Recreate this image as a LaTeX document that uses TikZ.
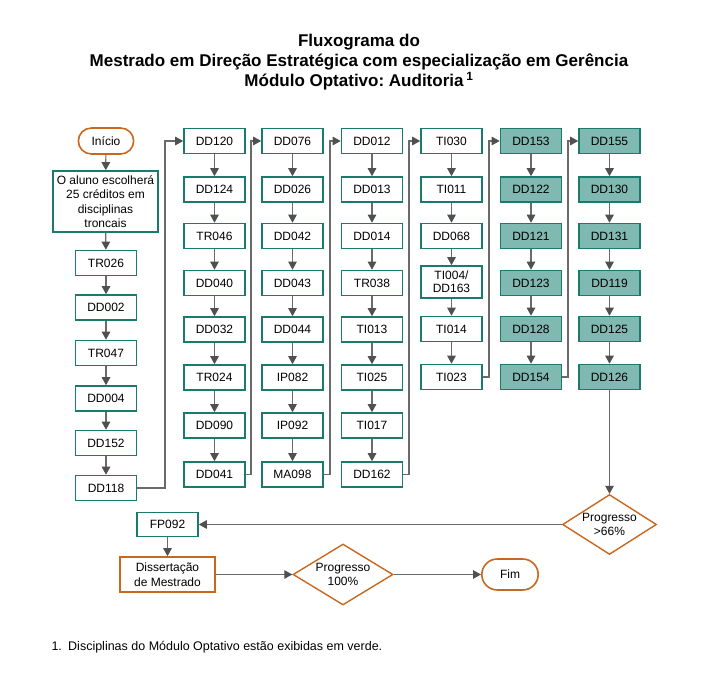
\documentclass[tikz,border=0pt]{standalone}
\usepackage{fontspec}
\setmainfont{Liberation Sans}
\frenchspacing
\usetikzlibrary{arrows.meta,shapes.geometric,shapes.misc}
\definecolor{BoxClr}{HTML}{1A7A6C}
\definecolor{OptClr}{HTML}{80B8B2}
\definecolor{EndClr}{HTML}{C8671E}
\definecolor{LineClr}{HTML}{6A6A6A}
\definecolor{TipClr}{HTML}{505050}

\begin{document}
\begin{tikzpicture}[x=1pt,y=-1pt,
  font=\fontsize{12}{14.5}\selectfont,
  disc/.style={draw=BoxClr,line width=1.6pt,fill=white,minimum width=61pt,minimum height=25pt,inner sep=1pt,align=center},
  opt/.style={disc,fill=OptClr},
  term/.style={draw=EndClr,line width=1.6pt,rounded rectangle,minimum width=62pt,minimum height=26pt},
  decis/.style={draw=EndClr,line width=1.4pt,diamond,aspect=1.57,inner sep=0pt,align=center,minimum width=94pt,minimum height=60pt},
  flow/.style={draw=LineClr,line width=1.2pt,-{Triangle[length=8pt,width=8.5pt,fill=TipClr,color=TipClr]}}]
\useasboundingbox (0,0) rectangle (716,685);

\node[font=\fontsize{17}{20}\selectfont\bfseries,align=center] (titulo) at (359,62)
  {Fluxograma do\\Mestrado em Direção Estratégica com especialização em Gerência\\Módulo Optativo: Auditoria\,\textsuperscript{1}};

\node[term] (inicio) at (106,141) {Início};
\node[disc,minimum width=105pt,minimum height=61pt] (escolha) at (105.5,201.5) {O aluno escolherá\\25 créditos em\\disciplinas\\troncais};
\node[disc] (tr026) at (106,263) {TR026};
\node[disc] (dd002) at (106,307.5) {DD002};
\node[disc] (tr047) at (106,353) {TR047};
\node[disc] (dd004) at (106,398.5) {DD004};
\node[disc] (dd152) at (106,443) {DD152};
\node[disc] (dd118) at (106,488) {DD118};

\node[disc] (dd120) at (214.5,141) {DD120};
\node[disc] (dd124) at (214.5,189.5) {DD124};
\node[disc] (tr046) at (214.5,236) {TR046};
\node[disc] (dd040) at (214.5,283) {DD040};
\node[disc] (dd032) at (214.5,329.5) {DD032};
\node[disc] (tr024) at (214.5,377.5) {TR024};
\node[disc] (dd090) at (214.5,425.5) {DD090};
\node[disc] (dd041) at (214.5,474.5) {DD041};

\node[disc] (dd076) at (292.5,141) {DD076};
\node[disc] (dd026) at (292.5,189.5) {DD026};
\node[disc] (dd042) at (292.5,236) {DD042};
\node[disc] (dd043) at (292.5,283) {DD043};
\node[disc] (dd044) at (292.5,329.5) {DD044};
\node[disc] (ip082) at (292.5,377.5) {IP082};
\node[disc] (ip092) at (292.5,425.5) {IP092};
\node[disc] (ma098) at (292.5,474.5) {MA098};

\node[disc] (dd012) at (372,141) {DD012};
\node[disc] (dd013) at (372,189.5) {DD013};
\node[disc] (dd014) at (372,236) {DD014};
\node[disc] (tr038) at (372,283) {TR038};
\node[disc] (ti013) at (372,329.5) {TI013};
\node[disc] (ti025) at (372,377.5) {TI025};
\node[disc] (ti017) at (372,425.5) {TI017};
\node[disc] (dd162) at (372,474.5) {DD162};

\node[disc] (ti030) at (451.5,141) {TI030};
\node[disc] (ti011) at (451.5,189.5) {TI011};
\node[disc] (dd068) at (451.5,236) {DD068};
\node[disc,minimum height=32pt,font=\fontsize{12}{13}\selectfont] (ti004) at (451.5,282) {TI004/\\DD163};
\node[disc] (ti014) at (451.5,329) {TI014};
\node[disc] (ti023) at (451.5,377) {TI023};

\node[opt] (dd153) at (531,141) {DD153};
\node[opt] (dd122) at (531,189.5) {DD122};
\node[opt] (dd121) at (531,236) {DD121};
\node[opt] (dd123) at (531,283) {DD123};
\node[opt] (dd128) at (531,329) {DD128};
\node[opt] (dd154) at (531,377) {DD154};

\node[opt] (dd155) at (609.5,141) {DD155};
\node[opt] (dd130) at (609.5,189.5) {DD130};
\node[opt] (dd131) at (609.5,236) {DD131};
\node[opt] (dd119) at (609.5,283) {DD119};
\node[opt] (dd125) at (609.5,329) {DD125};
\node[opt] (dd126) at (609.5,377) {DD126};

\node[decis] (prog66) at (609.5,524.5) {Progresso\\>66\%};
\node[disc,minimum height=24pt] (fp092) at (167.5,524.5) {FP092};
\node[disc,draw=EndClr,minimum width=95pt,minimum height=35pt] (disser) at (167.5,574.5) {Dissertação\\de Mestrado};
\node[decis,minimum width=100pt,minimum height=61pt] (prog100) at (343,574.5) {Progresso\\100\%};
\node[term,minimum width=63pt,minimum height=31pt] (fim) at (510,574.5) {Fim};

\node[anchor=west,font=\fontsize{12.5}{14}\selectfont] (nota) at (48,647) {1.\enspace Disciplinas do Módulo Optativo estão exibidas em verde.};

\coordinate (jA) at (165,141);
\coordinate (jB) at (251,141);
\coordinate (jC) at (330,141);
\coordinate (jD) at (409,141);
\coordinate (jE) at (489,141);
\coordinate (jF) at (568,141);

\path[flow] (inicio) edge (escolha) (escolha) edge (tr026) (tr026) edge (dd002) (dd002) edge (tr047)
  (tr047) edge (dd004) (dd004) edge (dd152) (dd152) edge (dd118);
\path[flow] (dd120) edge (dd124) (dd124) edge (tr046) (tr046) edge (dd040) (dd040) edge (dd032)
  (dd032) edge (tr024) (tr024) edge (dd090) (dd090) edge (dd041);
\path[flow] (dd076) edge (dd026) (dd026) edge (dd042) (dd042) edge (dd043) (dd043) edge (dd044)
  (dd044) edge (ip082) (ip082) edge (ip092) (ip092) edge (ma098);
\path[flow] (dd012) edge (dd013) (dd013) edge (dd014) (dd014) edge (tr038) (tr038) edge (ti013)
  (ti013) edge (ti025) (ti025) edge (ti017) (ti017) edge (dd162);
\path[flow] (ti030) edge (ti011) (ti011) edge (dd068) (dd068) edge (ti004) (ti004) edge (ti014)
  (ti014) edge (ti023);
\path[flow] (dd153) edge (dd122) (dd122) edge (dd121) (dd121) edge (dd123) (dd123) edge (dd128)
  (dd128) edge (dd154);
\path[flow] (dd155) edge (dd130) (dd130) edge (dd131) (dd131) edge (dd119) (dd119) edge (dd125)
  (dd125) edge (dd126);

\draw[flow] (dd118) -| (jA) -- (dd120);
\draw[flow] (dd041) -| (jB) -- (dd076);
\draw[flow] (ma098) -| (jC) -- (dd012);
\draw[flow] (dd162) -| (jD) -- (ti030);
\draw[flow] (ti023) -| (jE) -- (dd153);
\draw[flow] (dd154) -| (jF) -- (dd155);

\draw[flow] (dd126) -- (prog66);
\draw[flow] (prog66) -- (fp092);
\draw[flow] (fp092) -- (disser);
\draw[flow] (disser) -- (prog100);
\draw[flow] (prog100) -- (fim);

\end{tikzpicture}
\end{document}
